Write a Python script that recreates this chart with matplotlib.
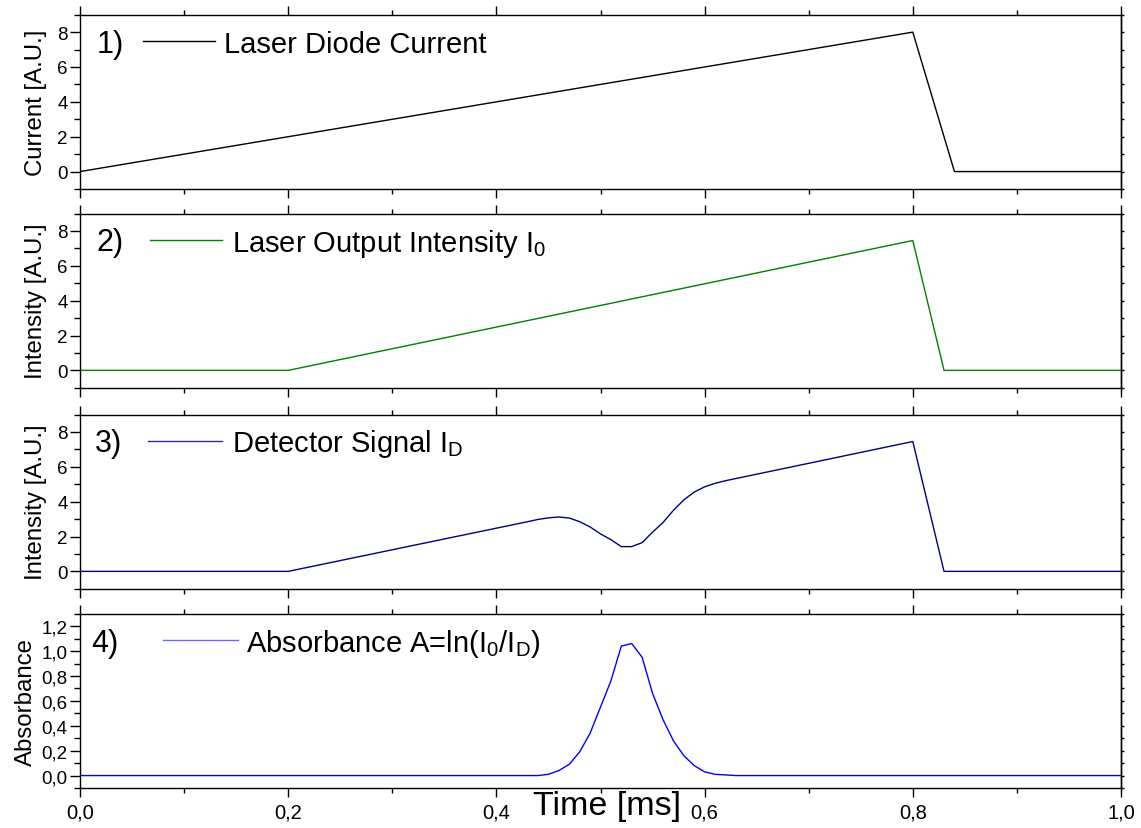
import matplotlib
matplotlib.use("Agg")
import matplotlib.pyplot as plt
from matplotlib.ticker import MultipleLocator, FuncFormatter
from matplotlib.lines import Line2D

plt.rcParams['font.family'] = ['Liberation Sans', 'DejaVu Sans']
plt.rcParams['mathtext.fontset'] = 'custom'
plt.rcParams['mathtext.rm'] = 'Liberation Sans'
plt.rcParams['mathtext.it'] = 'Liberation Sans:italic'
plt.rcParams['mathtext.default'] = 'regular'

# 1) laser diode current ramp
t_current = [0.0, 0.8, 0.84, 1.0]
v_current = [0.0, 8.0, 0.0, 0.0]

# 2) laser output intensity I0
t_output = [0.0, 0.2, 0.8, 0.83, 1.0]
v_output = [0.0, 0.0, 7.45, 0.0, 0.0]

# 3) detector signal ID with absorption dip
t_detector = [0.0, 0.2, 0.43, 0.44, 0.45, 0.46, 0.47, 0.48, 0.49, 0.50, 0.51,
              0.52, 0.53, 0.54, 0.55, 0.56, 0.57, 0.58, 0.59, 0.60, 0.61,
              0.62, 0.80, 0.83, 1.0]
v_detector = [0.0, 0.0, 2.85, 2.98, 3.07, 3.12, 3.06, 2.85, 2.55, 2.15, 1.82,
              1.42, 1.42, 1.65, 2.25, 2.80, 3.50, 4.10, 4.55, 4.85, 5.05,
              5.20, 7.45, 0.0, 0.0]

# 4) absorbance A = ln(I0/ID)
t_absorb = [0.0, 0.44, 0.45, 0.46, 0.47, 0.48, 0.49, 0.50, 0.51, 0.52, 0.53,
            0.54, 0.55, 0.56, 0.57, 0.58, 0.59, 0.60, 0.61, 0.62, 0.63, 1.0]
v_absorb = [0.0, 0.0, 0.01, 0.04, 0.09, 0.19, 0.34, 0.55, 0.76, 1.04, 1.06,
            0.95, 0.66, 0.45, 0.28, 0.16, 0.08, 0.03, 0.01, 0.005, 0.0, 0.0]

ylabels = ['Current [A.U.]', 'Intensity [A.U.]', 'Intensity [A.U.]', 'Absorbance']
legend_texts = ['Laser Diode Current', r'Laser Output Intensity I$_0$',
                r'Detector Signal I$_D$', r'Absorbance A=ln(I$_0$/I$_D$)']
panel_tags = ['1)', '2)', '3)', '4)']
colors = ['#000000', '#008000', '#000080', '#0000ff']
legend_colors = ['#000000', '#008000', '#2a2a9a', '#6a6aff']
series = [(t_current, v_current), (t_output, v_output),
          (t_detector, v_detector), (t_absorb, v_absorb)]

W, H = 1141, 829
fig = plt.figure(figsize=(W / 100, H / 100), dpi=100)

left_px, right_px = 80, 1121
tops_px = [15.7, 214.5, 415.5, 614.7]
height_px = 174.3
label_pads = [7, 7, 7, 3]

# legend placement (pixels): tag left, line start, line end, text start
legend_px = [(97, 143, 215, 224), (97, 150, 222, 232),
             (95, 148, 222, 232), (91, 163, 238, 246)]


def comma_fmt(decimals):
    def f(v, pos):
        s = f"{v:.{decimals}f}"
        if s.startswith('-0') and float(s) == 0:
            s = s[1:]
        return s.replace('.', ',')
    return FuncFormatter(f)


axes = []
for i, (t, v) in enumerate(series):
    top = tops_px[i]
    ax = fig.add_axes([left_px / W, 1 - (top + height_px) / H,
                       (right_px - left_px) / W, height_px / H])
    axes.append(ax)
    ax.plot(t, v, color=colors[i], lw=1.0)
    ax.set_xlim(0, 1.0)
    ax.xaxis.set_major_locator(MultipleLocator(0.2))
    ax.xaxis.set_minor_locator(MultipleLocator(0.1))
    if i < 3:
        ax.set_ylim(-1, 9)
        ax.yaxis.set_major_locator(MultipleLocator(2))
        ax.yaxis.set_minor_locator(MultipleLocator(1))
        ax.yaxis.set_major_formatter(comma_fmt(0))
    else:
        ax.set_ylim(-0.1, 1.3)
        ax.yaxis.set_major_locator(MultipleLocator(0.2))
        ax.yaxis.set_minor_locator(MultipleLocator(0.1))
        ax.yaxis.set_major_formatter(comma_fmt(1))
    ax.xaxis.set_major_formatter(comma_fmt(1))

    for sp in ax.spines.values():
        sp.set_linewidth(1.0)
    ax.tick_params(which='both', direction='out', top=True, right=False,
                   width=1.0)
    ax.tick_params(axis='x', which='major', length=6.5, labelsize=14.5, pad=4)
    ax.tick_params(axis='x', which='minor', length=3.5)
    ax.tick_params(axis='y', which='major', length=7, labelsize=13.5, pad=2)
    ax.tick_params(axis='y', which='minor', length=4)
    if i < 3:
        ax.tick_params(axis='x', labelbottom=False)

    # short ticks along the right edge at every major and minor position
    sec = ax.secondary_yaxis('right')
    sec.yaxis.set_major_locator(ax.yaxis.get_major_locator())
    sec.yaxis.set_minor_locator(ax.yaxis.get_minor_locator())
    sec.tick_params(which='both', direction='out', length=2.5, width=1.0,
                    labelright=False)
    sec.spines['right'].set_linewidth(1.0)

    ax.set_ylabel(ylabels[i], fontsize=17.3, labelpad=label_pads[i])

    # in-panel legend
    tag_x, l0, l1, tx = legend_px[i]
    fx = lambda px: (px - left_px) / (right_px - left_px)
    line_y = 1 - 26.5 / height_px
    base_y = 1 - 37.0 / height_px
    ax.text(fx(tag_x), base_y, panel_tags[i], transform=ax.transAxes,
            fontsize=22, ha='left', va='baseline')
    ax.add_line(Line2D([fx(l0), fx(l1)], [line_y, line_y],
                       transform=ax.transAxes, color=legend_colors[i], lw=1.0))
    ax.text(fx(tx), base_y, legend_texts[i], transform=ax.transAxes,
            fontsize=21, ha='left', va='baseline')

fig.text(607 / W, 1 - 807 / H, 'Time [ms]', fontsize=24.5,
         ha='center', va='center')

fig.savefig('out.png', dpi=100)
